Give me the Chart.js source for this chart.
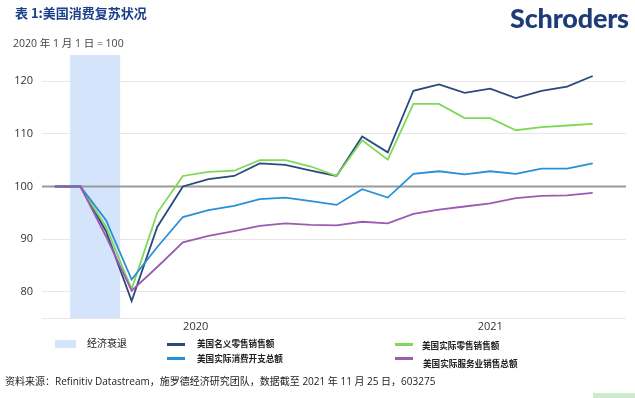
<!DOCTYPE html>
<html>
<head>
<meta charset="utf-8">
<script src="https://cdn.jsdelivr.net/npm/chart.js@4"></script>
<style>
  body { margin: 0; background: #fff; }
  #wrap { position: relative; width: 635px; height: 398px; overflow: hidden; font-family: "Open Sans", "Noto Sans CJK SC", sans-serif; }
  #chart { position: absolute; left: 0; top: 0; }
  .txt { position: absolute; white-space: nowrap; line-height: 1; }
  #title { left: 15px; top: 6px; font-size: 13px; color: #1b3f8b; font-weight: bold; font-family: "Noto Sans CJK SC", sans-serif; }
  #sub { left: 13px; top: 38px; font-size: 10.5px; color: #444; }
  #logo { left: 510px; top: 4px; font-family: Lato, sans-serif; font-weight: 900; font-size: 27px; color: #1d3c78; letter-spacing: -0.2px; }
  .leg { position: absolute; font-size: 8.6px; color: #222; white-space: nowrap; line-height: 1; font-weight: bold; font-family: "Noto Sans CJK SC", sans-serif; }
  .swatch { position: absolute; height: 3px; width: 18px; }
  #src { left: 5px; top: 376px; font-size: 10px; color: #222; }
  #tag { position: absolute; left: 593px; top: 393px; width: 42px; height: 5px; background: #cdeccd; }
</style>
</head>
<body>
<div id="wrap">
  <canvas id="chart" width="635" height="398"></canvas>
  <div class="txt" id="title">表 1:美国消费复苏状况</div>
  <div class="txt" id="sub">2020 年 1 月 1 日 = 100</div>
  <div class="txt" id="logo">Schroders</div>

  <div style="position:absolute;left:55px;top:340px;width:21px;height:8px;background:#d4e5fb;"></div>
  <div class="leg" style="left:87px;top:338px;font-size:10px;font-weight:normal;">经济衰退</div>

  <div class="swatch" style="left:167px;top:343px;background:#2b4a7c;"></div>
  <div class="leg" style="left:197px;top:339px;">美国名义零售销售额</div>
  <div class="swatch" style="left:167px;top:357px;background:#2b8fd6;"></div>
  <div class="leg" style="left:197px;top:354px;">美国实际消费开支总额</div>

  <div class="swatch" style="left:395px;top:343px;background:#7ed957;"></div>
  <div class="leg" style="left:422px;top:341px;">美国实际零售销售额</div>
  <div class="swatch" style="left:395px;top:357px;background:#9b5bb0;"></div>
  <div class="leg" style="left:423px;top:359px;">美国实际服务业销售总额</div>

  <div class="txt" id="src">资料来源：Refinitiv Datastream，施罗德经济研究团队，数据截至 2021 年 11 月 25 日，603275</div>
  <div id="tag"></div>
</div>
<script>
// monthly observations, Jan 2020 .. Oct 2021 (index: 2020-01-01 = 100)
const months = ['2020-01','2020-02','2020-03','2020-04','2020-05','2020-06','2020-07','2020-08','2020-09','2020-10','2020-11','2020-12',
                '2021-01','2021-02','2021-03','2021-04','2021-05','2021-06','2021-07','2021-08','2021-09','2021-10'];

const nominalRetail = [100, 100, 91.5, 78.2, 92.3, 100, 101.4, 102, 104.4, 104.1, 103, 102, 109.5, 106.5, 118.2, 119.4, 117.8, 118.6, 116.8, 118.2, 119, 121];
const realRetail    = [100, 100, 92.3, 80.5, 95, 102, 102.8, 103, 105, 105, 103.8, 102, 108.8, 105.1, 115.7, 115.7, 113, 113, 110.7, 111.3, 111.6, 111.9];
const realPce       = [100, 100, 93.6, 82.3, 88.5, 94.2, 95.5, 96.3, 97.6, 97.9, 97.2, 96.5, 99.5, 97.9, 102.4, 102.9, 102.3, 102.9, 102.4, 103.4, 103.4, 104.4];
const realServices  = [100, 100, 90.5, 80.2, 84.7, 89.4, 90.6, 91.5, 92.5, 93, 92.7, 92.6, 93.3, 93, 94.8, 95.6, 96.2, 96.8, 97.8, 98.2, 98.3, 98.8];

const yearLabels = ['2020', '2021'];
const yearTickPos = [5.5, 17.0];     // centre of each year's visible span (month index)
const recession = [0.6, 2.55];       // Feb–Apr 2020, in month index
const yTicks = [75, 80, 90, 100, 110, 120];

function pts(arr) {
    return arr.map((v, i) => ({ x: i, y: v }));
}

// Shaded recession band behind the lines
const recessionBand = {
    id: 'recessionBand',
    beforeDatasetsDraw(chart) {
        const { ctx, chartArea, scales } = chart;
        const x0 = scales.x.getPixelForValue(recession[0]);
        const x1 = scales.x.getPixelForValue(recession[1]);
        ctx.save();
        ctx.fillStyle = '#d4e5fb';
        ctx.fillRect(x0, chartArea.top, x1 - x0, chartArea.bottom - chartArea.top);
        ctx.restore();
    }
};

// Draw the 100 baseline on top of the shading
const baseline = {
    id: 'baseline',
    beforeDatasetsDraw(chart) {
        const { ctx, chartArea, scales } = chart;
        const y = scales.y.getPixelForValue(100);
        ctx.save();
        ctx.strokeStyle = '#9a9a9a';
        ctx.lineWidth = 2;
        ctx.beginPath();
        ctx.moveTo(chartArea.left, y);
        ctx.lineTo(chartArea.right, y);
        ctx.stroke();
        ctx.restore();
    }
};

function line(label, data, color) {
    return {
        label: label,
        data: pts(data),
        borderColor: color,
        borderWidth: 1.8,
        pointRadius: 0,
        fill: false,
        tension: 0
    };
}

new Chart(document.getElementById('chart').getContext('2d'), {
    type: 'line',
    data: {
        datasets: [
            line('美国实际服务业销售总额', realServices, '#9b5bb0'),
            line('美国实际消费开支总额', realPce, '#2b8fd6'),
            line('美国实际零售销售额', realRetail, '#7ed957'),
            line('美国名义零售销售额', nominalRetail, '#2b4a7c')
        ]
    },
    options: {
        responsive: false,
        animation: false,
        layout: { padding: { top: 55, right: 9, left: 0, bottom: 0 } },
        plugins: { legend: { display: false }, tooltip: { enabled: false } },
        scales: {
            x: {
                type: 'linear',
                min: -0.5,
                max: 22.3,
                afterFit(scale) { scale.height = 80; },
                afterBuildTicks(scale) { scale.ticks = yearTickPos.map(v => ({ value: v })); },
                grid: { display: false, drawTicks: false },
                border: { display: false },
                ticks: {
                    padding: 2,
                    maxRotation: 0,
                    color: '#333',
                    font: { family: 'Open Sans', size: 11 },
                    callback: (v, i) => yearLabels[i]
                }
            },
            y: {
                min: 75,
                max: 125,
                afterFit(scale) { scale.width = 42; },
                afterBuildTicks(scale) { scale.ticks = yTicks.map(v => ({ value: v })); },
                grid: {
                    drawTicks: false,
                    color: ctx => ctx.tick && ctx.tick.value === 100 ? 'rgba(0,0,0,0)' : '#e6e6e6',
                    lineWidth: 1
                },
                border: { display: false },
                ticks: {
                    padding: 9,
                    color: '#333',
                    font: { family: 'Open Sans', size: 11 },
                    callback: v => v === 75 ? '' : v
                }
            }
        }
    },
    plugins: [recessionBand, baseline]
});
</script>
</body>
</html>
